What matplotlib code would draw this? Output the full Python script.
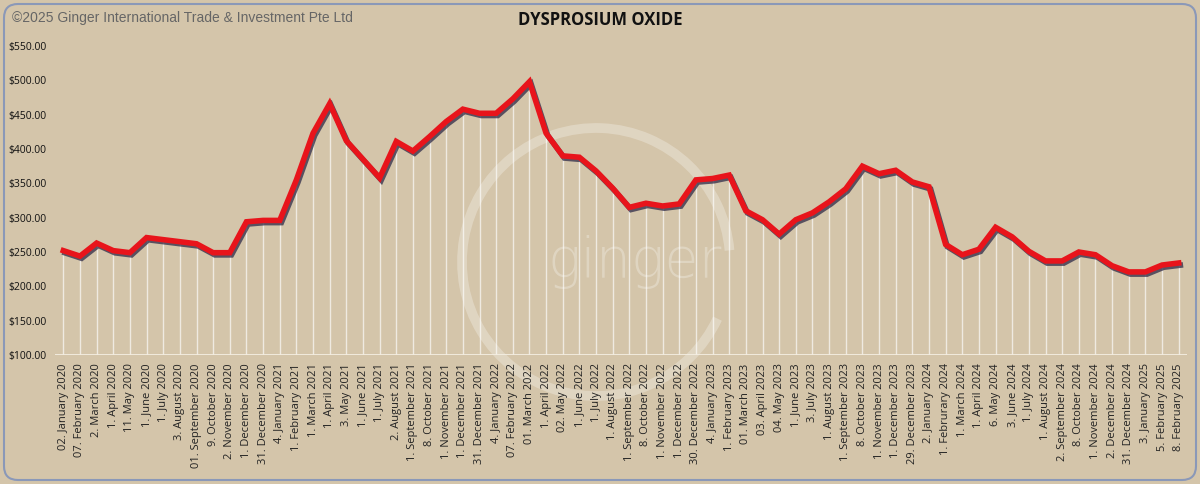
import matplotlib
matplotlib.use("Agg")
import matplotlib.pyplot as plt
import matplotlib.patheffects as pe
from matplotlib.patches import Arc, FancyBboxPatch
from matplotlib.ticker import FuncFormatter

# 数据：价格
dates = [
    "02. January 2020", "07. February 2020", "2. March 2020", "1. April 2020",
    "11. May 2020", "1. June 2020", "1. July 2020", "3. August 2020",
    "01. September 2020", "9. October 2020", "2. November 2020", "1. December 2020",
    "31. December 2020", "4. January 2021", "1. February 2021", "1. March 2021",
    "1. April 2021", "3. May 2021", "1. June 2021", "1. July 2021",
    "2. August 2021", "1. September 2021", "8. October 2021", "1. November 2021",
    "1. December 2021", "31. December 2021", "4. January 2022", "07. February 2022",
    "01. March 2022", "1. April 2022", "02. May 2022", "1. June 2022",
    "1. July 2022", "1. August 2022", "1. September 2022", "8. October 2022",
    "1. November 2022", "1. December 2022", "30. December 2022", "4. January 2023",
    "1. February 2023", "01. March 2023", "03. April 2023", "04. May 2023",
    "1. June 2023", "3. July 2023", "1. August 2023", "1. September 2023",
    "8. October 2023", "1. November 2023", "1. December 2023", "29. December 2023",
    "2. January 2024", "1. Februrary 2024", "1. March 2024", "1. April 2024",
    "6. May 2024", "3. June 2024", "1. July 2024", "1. August 2024",
    "2. September 2024", "8. October 2024", "1. November 2024", "2. December 2024",
    "31. December 2024", "3. January 2025", "5. February 2025", "8. February 2025",
]
prices = [
    252, 244, 263, 252, 249, 271, 268, 265, 262, 249, 249, 294,
    296, 296, 355, 423, 466, 412, 385, 358, 411, 397, 418, 440,
    458, 452, 452, 473, 498, 423, 390, 388, 368, 343, 315, 321,
    317, 320, 355, 357, 362, 310, 297, 276, 297, 307, 323, 342,
    375, 364, 369, 352, 345, 261, 246, 254, 286, 272, 251, 237,
    237, 250, 246, 230, 221, 221, 231, 234,
]
y_ticks = [100, 150, 200, 250, 300, 350, 400, 450, 500, 550]

bg = "#d4c5aa"
W, H = 1200, 484

fig = plt.figure(figsize=(W / 100, H / 100), dpi=100)
fig.patch.set_facecolor(bg)

# 水印层
wm = fig.add_axes([0, 0, 1, 1], zorder=0)
wm.set_xlim(0, W)
wm.set_ylim(H, 0)
wm.axis("off")
wm.add_patch(Arc((596, 262), 268, 268, theta1=25, theta2=355,
                 color="white", lw=7, alpha=0.28))
wm.text(635, 262, "ginger", fontsize=40, color="white", alpha=0.28,
        ha="center", va="center", family="DejaVu Sans", fontweight="light")
wm.add_patch(FancyBboxPatch((4, 4), W - 8, H - 8,
                            boxstyle="round,pad=0,rounding_size=14",
                            fc="none", ec="#8a98b8", lw=1.5))

ax = fig.add_axes([55 / W, 1 - 355 / H, (1187 - 55) / W, (355 - 46) / H], zorder=1)
ax.set_facecolor("none")
x = list(range(len(prices)))

# 垂直白色引线
ax.vlines(x, 100, prices, colors="white", lw=1, alpha=0.65, zorder=1)
ax.axhline(100, color="#f4eee2", lw=2, zorder=2)

ax.plot(x, prices, color="#e8141b", lw=4, solid_joinstyle="miter", zorder=3,
        path_effects=[pe.SimpleLineShadow(offset=(1.2, -1.6), shadow_color="#2e2a48", alpha=0.75),
                      pe.Normal()])

ax.set_xlim(-0.5, len(prices) - 0.5)
ax.set_ylim(100, 550)
ax.set_yticks(y_ticks)
ax.yaxis.set_major_formatter(FuncFormatter(lambda v, p: f"${v:,.2f}"))
ax.set_xticks(x)
ax.set_xticklabels(dates, rotation=90, fontsize=8, family="Open Sans", color="#222222")
for lab in ax.get_yticklabels():
    lab.set_fontsize(7.5)
    lab.set_family("Open Sans")
    lab.set_color("#111111")
ax.tick_params(length=0, pad=6)
for s in ax.spines.values():
    s.set_visible(False)

fig.text(600 / W, 1 - 20 / H, "DYSPROSIUM OXIDE", ha="center", va="center",
         fontsize=12, fontweight="bold", family="Open Sans", color="#111111")
fig.text(12 / W, 1 - 18 / H, "©2025 Ginger International Trade & Investment Pte Ltd",
         ha="left", va="center", fontsize=10, family="Liberation Sans", color="#666666")

fig.savefig("out.png", dpi=100, facecolor=bg)
